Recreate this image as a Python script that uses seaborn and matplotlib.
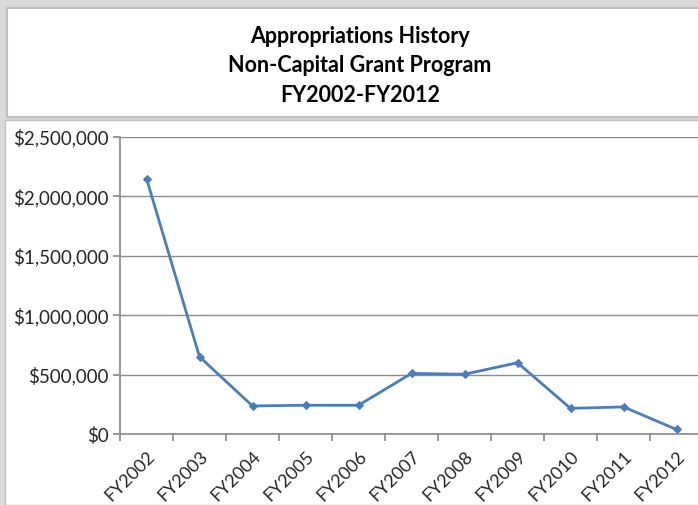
import matplotlib
matplotlib.use("Agg")
import matplotlib.pyplot as plt
import seaborn as sns
import pandas as pd
from matplotlib.patches import Rectangle
from matplotlib.ticker import FuncFormatter, FixedLocator

# Dados
anos = ["FY2002", "FY2003", "FY2004", "FY2005", "FY2006", "FY2007",
        "FY2008", "FY2009", "FY2010", "FY2011", "FY2012"]
valores = [2150000, 650000, 236000, 242000, 242000, 510000,
           503000, 600000, 216000, 228000, 38000]
titulo = "Appropriations History\nNon-Capital Grant Program\nFY2002-FY2012"

sns.set_theme(style="white")
plt.rcParams['font.family'] = ['Lato', 'DejaVu Sans']

fig = plt.figure(figsize=(6.98, 5.05), dpi=100)
fig.patch.set_facecolor("#d9d9d9")

W, H = 698, 505
# caixa do título
fig.patches.append(Rectangle((7 / W, 1 - 117 / H), 1, 109 / H, transform=fig.transFigure,
                             facecolor="white", edgecolor="#bfbfbf", linewidth=1.5, zorder=0))
# área do gráfico
fig.patches.append(Rectangle((5 / W, 0), 1, 1 - 120 / H, transform=fig.transFigure,
                             facecolor="white", edgecolor="#bfbfbf", linewidth=1.0, zorder=0))

fig.text(360 / W, 1 - 66 / H, titulo, ha="center", va="center", fontsize=15.5,
         fontweight="bold", color="black", linespacing=1.5, zorder=3)

ax = fig.add_axes([120 / W, 71 / H, 583 / W, 297 / H])
ax.set_zorder(2)
ax.patch.set_alpha(0)

df = pd.DataFrame({"ano": anos, "valor": valores})
df["pos"] = range(len(anos))
sns.lineplot(data=df, x="pos", y="valor", ax=ax, color="#4a7ebb", linewidth=2.0,
             marker="D", markersize=4.5, markeredgecolor="#4a7ebb", legend=False)

ax.set_xlim(-0.5, len(anos) - 0.5)
ax.set_ylim(0, 2500000)
ax.set_yticks(range(0, 2500001, 500000))
ax.yaxis.set_major_formatter(FuncFormatter(lambda v, p: f"${v:,.0f}"))
ax.grid(axis="y", color="#8c8c8c", linewidth=1.0)
ax.set_axisbelow(True)

# ticks de categoria entre os pontos, rótulos centrados
ax.xaxis.set_major_locator(FixedLocator([i - 0.5 for i in range(len(anos) + 1)]))
ax.xaxis.set_major_formatter(FuncFormatter(lambda v, p: ""))
ax.xaxis.set_minor_locator(FixedLocator(list(range(len(anos)))))
ax.set_xticklabels(anos, minor=True, rotation=45, ha="right", rotation_mode="anchor", fontsize=13)
ax.tick_params(axis="x", which="major", length=5, color="#8c8c8c", direction="out", bottom=True)
ax.tick_params(axis="x", which="minor", length=0, pad=10)
ax.tick_params(axis="y", length=5, color="#8c8c8c", left=True, labelsize=13.5, pad=3)

for s in ["top", "right"]:
    ax.spines[s].set_visible(False)
ax.spines["left"].set_color("#8c8c8c")
ax.spines["bottom"].set_color("#8c8c8c")
ax.set_xlabel("")
ax.set_ylabel("")

fig.savefig("out.png", dpi=100, facecolor=fig.get_facecolor())
